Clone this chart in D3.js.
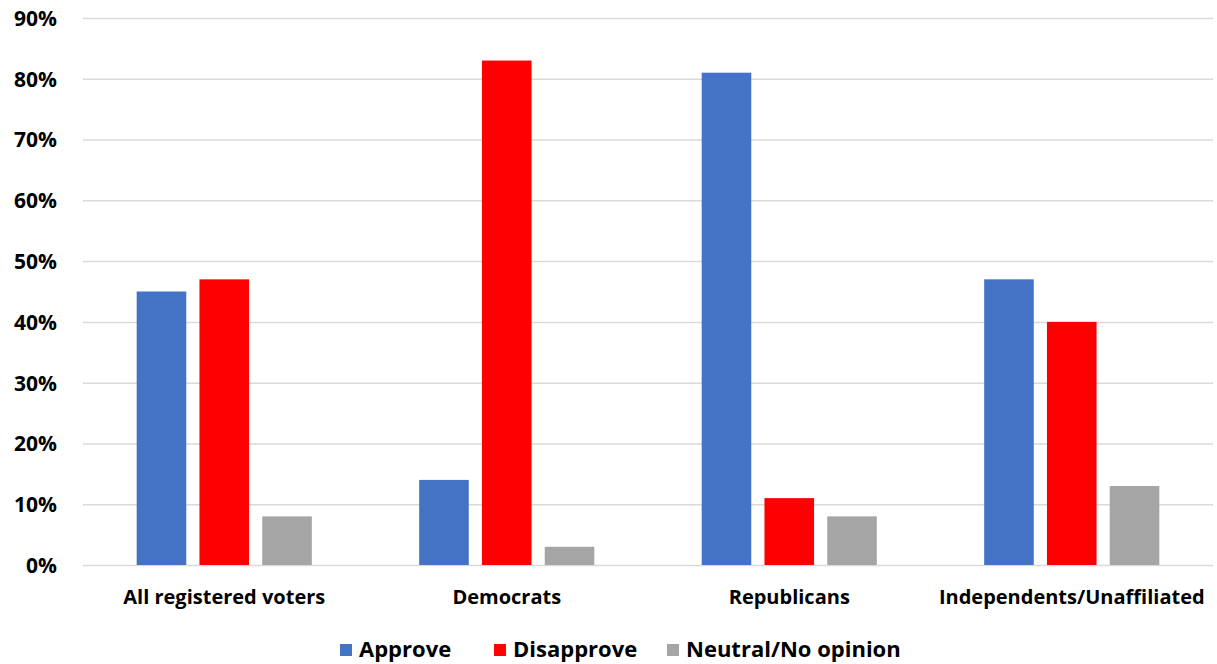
<!DOCTYPE html>
<html>
<head>
<meta charset="utf-8">
<script src="https://cdn.jsdelivr.net/npm/d3@7"></script>
<style>
  body { margin: 0; background: #fff; }
  svg text { font-family: "Open Sans", Lato, "Liberation Sans", sans-serif; font-weight: bold; fill: #000; }
</style>
</head>
<body>
<svg id="chart" width="1217" height="664"></svg>
<script>
const categories = ["All registered voters", "Democrats", "Republicans", "Independents/Unaffiliated"];
const seriesNames = ["Approve", "Disapprove", "Neutral/No opinion"];
const approve = [45, 14, 81, 47];
const disapprove = [47, 83, 11, 40];
const neutral = [8, 3, 8, 13];
const yTicks = [0, 10, 20, 30, 40, 50, 60, 70, 80, 90];
const colors = ["#4472C4", "#FF0000", "#A5A5A5"];

const seriesValues = [approve, disapprove, neutral];
const svg = d3.select("#chart");
const margin = { left: 83, right: 4, top: 18, bottom: 99 };
const W = 1217, H = 664;

const x0 = d3.scaleBand().domain(categories).range([margin.left, W - margin.right]).paddingInner(0).paddingOuter(0);
const groupPad = x0.bandwidth() * 0.19;
const x1 = d3.scaleBand().domain(seriesNames).range([groupPad, x0.bandwidth() - groupPad]).paddingInner(0.21).paddingOuter(0);
const y = d3.scaleLinear().domain([0, 90]).range([H - margin.bottom, margin.top]);

// gridlines
const yAxis = d3.axisLeft(y).tickValues(yTicks).tickSize(-(W - margin.right - margin.left)).tickFormat(d => d + "%");
const gy = svg.append("g").attr("transform", `translate(${margin.left},0)`).call(yAxis);
gy.select(".domain").remove();
gy.selectAll(".tick line").attr("stroke", "#D9D9D9").attr("stroke-width", 1.5);
gy.selectAll(".tick text").attr("x", -26).attr("font-size", 21).attr("dy", "0.35em");

// bars
const groups = svg.append("g").selectAll("g").data(categories).join("g")
  .attr("transform", d => `translate(${x0(d)},0)`);
groups.selectAll("rect").data((c, i) => seriesNames.map((s, j) => ({ s, v: seriesValues[j][i], j })))
  .join("rect")
  .attr("x", d => x1(d.s))
  .attr("width", x1.bandwidth())
  .attr("y", d => y(d.v))
  .attr("height", d => y(0) - y(d.v))
  .attr("fill", d => colors[d.j]);

// x axis labels
const xAxis = d3.axisBottom(x0).tickSize(0).tickPadding(0);
const gx = svg.append("g").attr("transform", `translate(0,${y(0)})`).call(xAxis);
gx.select(".domain").remove();
gx.selectAll(".tick text").attr("font-size", 20).attr("y", 32).attr("dy", "0.35em");

// legend
const legendItems = [
  { name: seriesNames[0], x: 340 },
  { name: seriesNames[1], x: 494 },
  { name: seriesNames[2], x: 667 }
];
const lg = svg.append("g");
legendItems.forEach((it, i) => {
  lg.append("rect").attr("x", it.x).attr("y", 644).attr("width", 12).attr("height", 12).attr("fill", colors[i]);
  lg.append("text").attr("x", it.x + 19).attr("y", 649).attr("dy", "0.35em").attr("font-size", 22).text(it.name);
});
</script>
</body>
</html>
